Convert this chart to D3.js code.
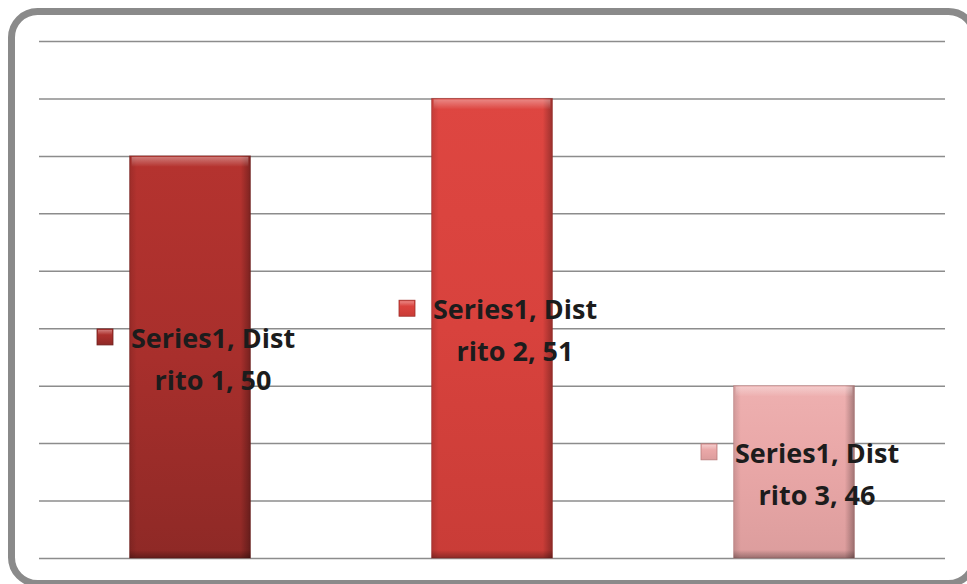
<!DOCTYPE html>
<html><head><meta charset="utf-8">
<script src="https://cdn.jsdelivr.net/npm/d3@7"></script>
<style>html,body{margin:0;padding:0;background:#fff;}svg{display:block;}</style>
</head><body>
<svg id="chart" width="967" height="584"></svg>
<script>
const categories = ["Distrito 1", "Distrito 2", "Distrito 3"];
const seriesName = "Series1";
const values = [50, 51, 46];
const labelLine1 = ["Series1, Dist", "Series1, Dist", "Series1, Dist"];
const labelLine2 = ["rito 1, 50", "rito 2, 51", "rito 3, 46"];
const yTicks = [43, 44, 45, 46, 47, 48, 49, 50, 51, 52];
const barColors = [
  {top: "#b5332f", mid: "#a82f2c", bot: "#8e2926", edge: "#6f1f1d"},
  {top: "#de4641", mid: "#d8423d", bot: "#c93c37", edge: "#9e2d29"},
  {top: "#eeb0b0", mid: "#e8a6a6", bot: "#dc9d9d", edge: "#b97c7c"}
];

const svg = d3.select("#chart");
const W = 967, H = 584;
const margin = {left: 39, right: 22, top: 41, bottom: 26};

// frame
svg.append("rect").attr("x", 11.5).attr("y", 11.5).attr("width", 963).attr("height", 572)
  .attr("rx", 26).attr("ry", 26).attr("fill", "#fff").attr("stroke", "#8a8a8a").attr("stroke-width", 7);

const x = d3.scaleBand().domain(categories)
  .range([margin.left, W - margin.right]).paddingInner(0.6).paddingOuter(0.3);
const y = d3.scaleLinear().domain([43, 52]).range([H - margin.bottom, margin.top]);

// gridlines via axis
const grid = svg.append("g").attr("transform", `translate(${margin.left},0)`)
  .call(d3.axisLeft(y).tickValues(yTicks).tickSize(-(W - margin.right - margin.left)).tickFormat(""));
grid.select(".domain").remove();
grid.selectAll("line").attr("stroke", "#8c8c8c").attr("stroke-width", 1.5);

const defs = svg.append("defs");
barColors.forEach((c, i) => {
  const gv = defs.append("linearGradient").attr("id", "gv" + i).attr("x1", 0).attr("y1", 0).attr("x2", 0).attr("y2", 1);
  gv.append("stop").attr("offset", "0").attr("stop-color", c.top);
  gv.append("stop").attr("offset", "0.5").attr("stop-color", c.mid);
  gv.append("stop").attr("offset", "1").attr("stop-color", c.bot);
});
const gh = defs.append("linearGradient").attr("id", "gh").attr("x1", 0).attr("y1", 0).attr("x2", 1).attr("y2", 0);
gh.append("stop").attr("offset", "0").attr("stop-color", "#000").attr("stop-opacity", 0.12);
gh.append("stop").attr("offset", "0.06").attr("stop-color", "#000").attr("stop-opacity", 0);
gh.append("stop").attr("offset", "0.92").attr("stop-color", "#000").attr("stop-opacity", 0);
gh.append("stop").attr("offset", "1").attr("stop-color", "#000").attr("stop-opacity", 0.3);
const gt = defs.append("linearGradient").attr("id", "gt").attr("x1", 0).attr("y1", 0).attr("x2", 0).attr("y2", 1);
gt.append("stop").attr("offset", "0").attr("stop-color", "#fff").attr("stop-opacity", 0.35);
gt.append("stop").attr("offset", "1").attr("stop-color", "#fff").attr("stop-opacity", 0);
const gb = defs.append("linearGradient").attr("id", "gb").attr("x1", 0).attr("y1", 0).attr("x2", 0).attr("y2", 1);
gb.append("stop").attr("offset", "0").attr("stop-color", "#000").attr("stop-opacity", 0);
gb.append("stop").attr("offset", "1").attr("stop-color", "#000").attr("stop-opacity", 0.3);

const bars = svg.append("g").selectAll("g").data(values).join("g");
bars.append("rect").attr("x", (d, i) => x(categories[i])).attr("y", d => y(d))
  .attr("width", x.bandwidth()).attr("height", d => y(43) - y(d))
  .attr("fill", (d, i) => `url(#gv${i})`)
  .attr("stroke", (d, i) => barColors[i].edge).attr("stroke-width", 1).attr("stroke-opacity", 0.5);
bars.append("rect").attr("x", (d, i) => x(categories[i])).attr("y", d => y(d))
  .attr("width", x.bandwidth()).attr("height", d => y(43) - y(d)).attr("fill", "url(#gh)");
bars.append("rect").attr("x", (d, i) => x(categories[i]) + 2).attr("y", d => y(d) + 1)
  .attr("width", x.bandwidth() - 4).attr("height", 10).attr("fill", "url(#gt)");
bars.append("rect").attr("x", (d, i) => x(categories[i])).attr("y", d => y(43) - 8)
  .attr("width", x.bandwidth()).attr("height", 8).attr("fill", "url(#gb)");

// labels
const lab = svg.append("g").selectAll("g").data(values).join("g")
  .attr("transform", (d, i) => `translate(${x(categories[i]) + x.bandwidth() / 2 + 23},${(y(d) + y(43)) / 2 - 9})`);
const font = "'Open Sans', Lato, sans-serif";
lab.append("text").attr("text-anchor", "middle").attr("x", 0).attr("y", 0)
  .attr("font-family", font).attr("font-weight", "bold").attr("font-size", 27)
  .attr("fill", "#1c1c1c").text((d, i) => labelLine1[i]);
lab.append("text").attr("text-anchor", "middle").attr("x", 0).attr("y", 42)
  .attr("font-family", font).attr("font-weight", "bold").attr("font-size", 27)
  .attr("fill", "#1c1c1c").text((d, i) => labelLine2[i]);
lab.append("rect").attr("x", -116).attr("y", -19).attr("width", 16).attr("height", 16)
  .attr("fill", (d, i) => `url(#gv${i})`).attr("stroke", (d, i) => barColors[i].edge).attr("stroke-width", 0.8);
lab.append("rect").attr("x", -115).attr("y", -18).attr("width", 14).attr("height", 5)
  .attr("fill", "url(#gt)");
</script>
</body></html>
